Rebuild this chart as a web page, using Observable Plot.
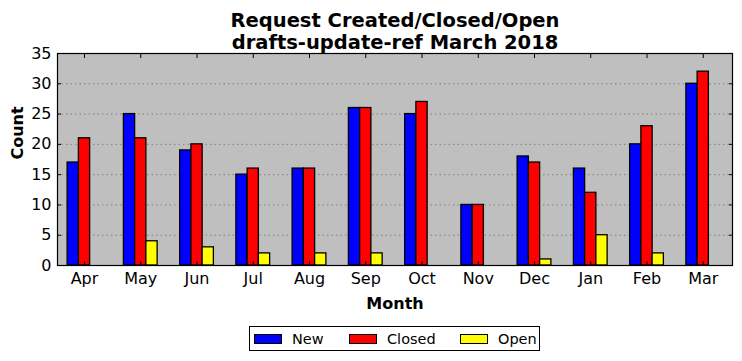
<!DOCTYPE html>
<html>
<head>
<meta charset="utf-8">
<script src="https://cdn.jsdelivr.net/npm/d3@7"></script>
<script src="https://cdn.jsdelivr.net/npm/@observablehq/plot@0.6"></script>
<style>
  body { margin: 0; background: #fff; font-family: "DejaVu Sans", sans-serif; }
  #wrap { position: relative; width: 742px; height: 361px; }
  #legend { position: absolute; left: 249px; top: 326px; width: 289px; height: 23px;
    border: 1px solid #000; background: #fff; font-size: 14.5px; }
  .item { position: absolute; top: 0; height: 23px; display: flex; align-items: center; }
  .sw { width: 26px; height: 8px; border: 1px solid #000; margin-right: 10px; }
</style>
</head>
<body>
<div id="wrap"><div id="chart"></div><div id="legend"></div></div>
<script>
const months = ["Apr","May","Jun","Jul","Aug","Sep","Oct","Nov","Dec","Jan","Feb","Mar"];
const newVals    = [17, 25, 19, 15, 16, 26, 25, 10, 18, 16, 20, 30];
const closedVals = [21, 21, 20, 16, 16, 26, 27, 10, 17, 12, 23, 32];
const openVals   = [0, 4, 3, 2, 2, 2, 0, 0, 1, 5, 2, 0];
const seriesNames = ["New", "Closed", "Open"];
const seriesColors = ["#0000ff", "#ff0000", "#ffff00"];
const yTicks = [0, 5, 10, 15, 20, 25, 30, 35];
const titleLines = ["Request Created/Closed/Open", "drafts-update-ref March 2018"];

const valueSets = [newVals, closedVals, openVals];
const data = [];
months.forEach((m, i) => {
  seriesNames.forEach((s, k) => {
    data.push({i, month: m, series: s, k, value: valueSets[k][i]});
  });
});
const idx = months.map((_, i) => i);
const barW = 0.2;

const chart = Plot.plot({
  width: 742,
  height: 361,
  marginTop: 53,
  marginBottom: 96,
  marginLeft: 57,
  marginRight: 10,
  style: {background: "transparent", fontFamily: "DejaVu Sans", color: "#000"},
  x: {type: "linear", domain: [-0.48, 11.52], axis: null},
  y: {domain: [0, 35], axis: null},
  color: {domain: seriesNames, range: seriesColors},
  marks: [
    Plot.frame({fill: "#bfbfbf", stroke: "none"}),
    Plot.gridY({ticks: yTicks.slice(1, -1), stroke: "#808080", strokeOpacity: 1, strokeDasharray: "1.5,3", strokeWidth: 1}),
    Plot.rectY(data, {
      x1: d => d.i + (d.k - 1) * barW - barW / 2,
      x2: d => d.i + (d.k - 1) * barW + barW / 2,
      y: "value",
      fill: "series",
      stroke: "#000",
      strokeWidth: 1.3
    }),
    Plot.frame({stroke: "#000", strokeWidth: 1.2}),
    Plot.axisX({ticks: idx, tickFormat: i => months[i], tickSize: 0, tickPadding: 7, fontSize: 16, label: null}),
    Plot.axisX({ticks: idx, tickFormat: () => "", tickSize: -4, label: null}),
    Plot.axisX({anchor: "top", ticks: idx, tickFormat: () => "", tickSize: -4, label: null}),
    Plot.axisY({ticks: yTicks, tickSize: 0, tickPadding: 6, fontSize: 16, label: null}),
    Plot.axisY({ticks: yTicks, tickFormat: () => "", tickSize: -4, label: null}),
    Plot.axisY({anchor: "right", ticks: yTicks, tickFormat: () => "", tickSize: -4, label: null}),
    Plot.text(["Count"], {frameAnchor: "left", dx: -40, rotate: -90, fontWeight: "bold", fontSize: 16}),
    Plot.text(["Month"], {frameAnchor: "bottom", dy: 43, fontWeight: "bold", fontSize: 16}),
    Plot.text([titleLines[0]], {frameAnchor: "top", dy: -40, fontWeight: "bold", fontSize: 19.5}),
    Plot.text([titleLines[1]], {frameAnchor: "top", dy: -18, fontWeight: "bold", fontSize: 19.5})
  ]
});
document.getElementById("chart").appendChild(chart);

const legendPos = [4, 99, 210];
const legend = document.getElementById("legend");
seriesNames.forEach((s, k) => {
  const it = document.createElement("div");
  it.className = "item";
  it.style.left = legendPos[k] + "px";
  const sw = document.createElement("div");
  sw.className = "sw";
  sw.style.background = seriesColors[k];
  it.appendChild(sw);
  const t = document.createElement("span");
  t.textContent = s;
  it.appendChild(t);
  legend.appendChild(it);
});
</script>
</body>
</html>
